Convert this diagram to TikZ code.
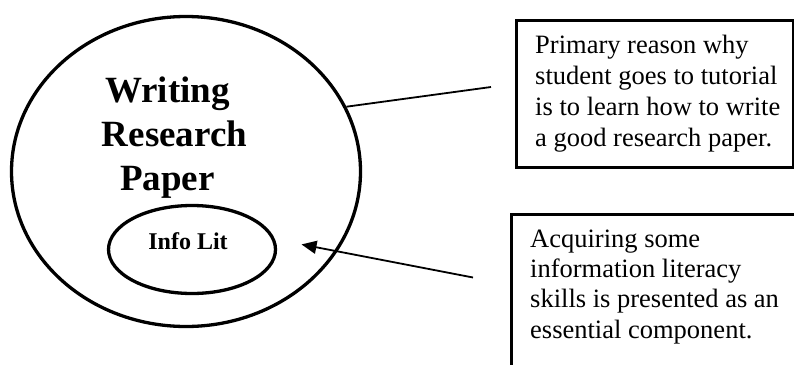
\documentclass[tikz,border=0pt]{standalone}
\usepackage{fontspec}
\setmainfont{Liberation Serif}
\usetikzlibrary{shapes.geometric,arrows.meta}
\begin{document}
\begin{tikzpicture}[x=1pt,y=-1pt,
  ring/.style={draw, ellipse, line width=3.3pt, inner sep=0pt},
  notebox/.style={draw, rectangle, line width=3pt, anchor=north west, inner sep=0pt},
  notetext/.style={align=left, anchor=base west, inner sep=0pt},
  link/.style={line width=1.8pt}]
\useasboundingbox (0,0) rectangle (794,364);
\clip (0,0) rectangle (794,364);
\node[ring, minimum width=349pt, minimum height=310pt] (big) at (186,171.5) {};
\node[ring, minimum width=167pt, minimum height=88pt] (small) at (192,249.5) {};
\node[align=center, anchor=base, inner sep=0pt, font=\bfseries\fontsize{37}{44}\selectfont] (title) at (167.5,190) {Writing\\\hspace*{14pt}Research\\Paper};
\node[anchor=base, inner sep=0pt, font=\bfseries\fontsize{24}{28}\selectfont] (info) at (188,249) {Info Lit};
\node[notebox, minimum width=277.5pt, minimum height=147pt] (box1) at (514.5,18.5) {};
\node[notebox, minimum width=400pt, minimum height=300pt] (box2) at (510,212.5) {};
\node[notetext, font=\fontsize{26.5}{31}\selectfont] (t1) at (535,146) {Primary reason why\\student goes to tutorial\\is to learn how to write\\a good research paper.};
\node[notetext, font=\fontsize{26.5}{30.3}\selectfont] (t2) at (530,338) {Acquiring some\\information literacy\\skills is presented as an\\essential component.};
\coordinate (c1) at (491,87);
\coordinate (c2) at (473,277.5);
\draw[link] (big.22) -- (c1);
\draw[link, -{Triangle[length=15pt,width=13pt]}, shorten >=27pt] (c2) -- (small.7);
\end{tikzpicture}
\end{document}
